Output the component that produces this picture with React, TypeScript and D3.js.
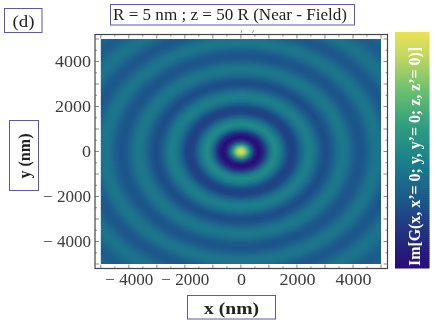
import React from "react";
import * as d3 from "d3";

const W = 436, H = 327;
const xMajor = [-4000, -2000, 0, 2000, 4000];
const yMajor = [-4000, -2000, 0, 2000, 4000];
const minorStep = 500;
// radial profile: distance (nm) and colour position
const radii = [0, 630, 1214, 1820, 2430, 3030, 3640, 4240, 4850, 5450, 6060, 6700, 7200];
const levels = [0.97, 0.0, 0.5, 0.2, 0.45, 0.25, 0.42, 0.27, 0.41, 0.28, 0.4, 0.3, 0.38];
const paletteAt = [0, 0.15, 0.3, 0.45, 0.6, 0.75, 0.9, 1];
const paletteColors = ["#2a0c7c", "#22327f", "#1c5c8c", "#1b7f8b", "#2e9f80", "#6cc070", "#c4d860", "#ece354"];
const panelLabel = "(d)";
const title = "R = 5 nm ; z = 50 R (Near - Field)";
const xTitle = "x (nm)";
const yTitle = "y (nm)";
const barTitle = "Im[G(x, x’= 0; y, y’= 0; z, z’= 0)]";

const x = d3.scaleLinear().domain([-5000, 5000]).range([100.8, 381]);
const y = d3.scaleLinear().domain([-5000, 5000]).range([264, 39]);
const profile = d3.scaleLinear<number>().domain(radii).range(levels)
  .interpolate((a: number, b: number) => (t: number) => a + (b - a) * d3.easeSinInOut(t));
const colour = d3.scaleLinear<string>().domain(paletteAt).range(paletteColors).interpolate(d3.interpolateRgb);
const barY = d3.scaleLinear().domain([0, 1]).range([268, 32]);

const fmt = (v: number) => (v < 0 ? "\u2212 " + Math.abs(v) : String(v));
const CELL = 2;
const gx = d3.range(97, 385, CELL);
const gy = d3.range(35, 268, CELL);
const serif = "'Liberation Serif', serif";
const box = "#5b58a8";
const ink = "#3a3a3a";

export default function App() {
  const ticks = d3.range(-5000, 5001, minorStep);
  const fx0 = 95, fx1 = 387.5, fy0 = 34.5, fy1 = 268.5;
  const stepLabel = (v: number) => (v < 0 ? 48 : v === 0 ? 9 : 36);
  return (
    <svg width={W} height={H} style={{ position: "absolute", left: 0, top: 0, background: "#fff" }} fontFamily={serif}>
      <defs>
        <filter id="soft" x="-5%" y="-5%" width="110%" height="110%"><feGaussianBlur stdDeviation="0.4" /></filter>
        <filter id="softer" x="-5%" y="-5%" width="110%" height="110%"><feGaussianBlur stdDeviation="0.8" /></filter>
        <clipPath id="img"><rect x={100.8} y={39} width={280.2} height={225} /></clipPath>
      </defs>
      <g clipPath="url(#img)">
        <g filter="url(#softer)" shapeRendering="crispEdges">
          {gx.map((px) => gy.map((py) => {
            const r = Math.hypot(x.invert(px + CELL / 2), y.invert(py + CELL / 2));
            return <rect key={px + "_" + py} x={px} y={py} width={CELL} height={CELL}
              fill={colour(profile(r))} />;
          }))}
        </g>
      </g>
      <g filter="url(#soft)">
        <rect x={fx0} y={fy0} width={fx1 - fx0} height={fy1 - fy0} fill="none" stroke="#444" strokeWidth={1.2} />
        {ticks.map((t) => {
          const major = t % 1000 === 0;
          const l = major ? 4 : 2;
          const px = x(t), py = y(t);
          return (
            <g key={t} stroke="#555" strokeWidth={0.7}>
              <line x1={px} x2={px} y1={fy1} y2={fy1 - l} />
              <line x1={px} x2={px} y1={fy0} y2={fy0 + l} />
              <line y1={py} y2={py} x1={fx0} x2={fx0 + l} />
              <line y1={py} y2={py} x1={fx1} x2={fx1 - l} />
            </g>
          );
        })}
        {xMajor.map((t) => (
          <text key={t} x={x(t) + 0.5} y={285} textAnchor="middle" fontSize={16} fill={ink}
            textLength={stepLabel(t)} lengthAdjust="spacingAndGlyphs">{fmt(t)}</text>
        ))}
        {yMajor.map((t) => (
          <text key={t} x={91} y={y(t) + 5} textAnchor="end" fontSize={16} fill={ink}
            textLength={stepLabel(t)} lengthAdjust="spacingAndGlyphs">{fmt(t)}</text>
        ))}
        <rect x={4.5} y={8.5} width={37.5} height={24} fill="#fff" stroke={box} />
        <text x={23.5} y={27} textAnchor="middle" fontSize={16} fill="#222" textLength={22} lengthAdjust="spacingAndGlyphs">{panelLabel}</text>
        <rect x={110.5} y={4.5} width={244} height={20.5} fill="#fff" stroke={box} />
        <text x={230} y={19.5} textAnchor="middle" fontSize={16} fill="#222" textLength={234} lengthAdjust="spacingAndGlyphs">{title}</text>
        <rect x={187.5} y={295.5} width={88} height={23.5} fill="#fff" stroke={box} />
        <text x={231.5} y={313.5} textAnchor="middle" fontSize={17} fontWeight="bold" fill="#222" textLength={55} lengthAdjust="spacingAndGlyphs">{xTitle}</text>
        <rect x={9.5} y={120.5} width={29} height={70} fill="#fff" stroke={box} />
        <text transform="translate(30,156) rotate(-90)" textAnchor="middle" fontSize={17} fontWeight="bold" fill="#222" textLength={45} lengthAdjust="spacingAndGlyphs">{yTitle}</text>
        <line x1={241} x2={242} y1={33} y2={30} stroke="#888" strokeWidth={0.8} />
        <line x1={252} x2={254} y1={33} y2={30} stroke="#888" strokeWidth={0.8} />
      </g>
      <g>
        {d3.range(0, 1, 1 / 118).map((t) => (
          <rect key={t} x={395} y={barY(t + 1 / 118)} width={34.5} height={barY(t) - barY(t + 1 / 118) + 0.5}
            fill={colour(t)} />
        ))}
      </g>
      <text filter="url(#soft)" transform="translate(420,266) rotate(-90)" fontSize={16} fontWeight="bold" fill="#fff" textLength={219} lengthAdjust="spacingAndGlyphs">{barTitle}</text>
    </svg>
  );
}
